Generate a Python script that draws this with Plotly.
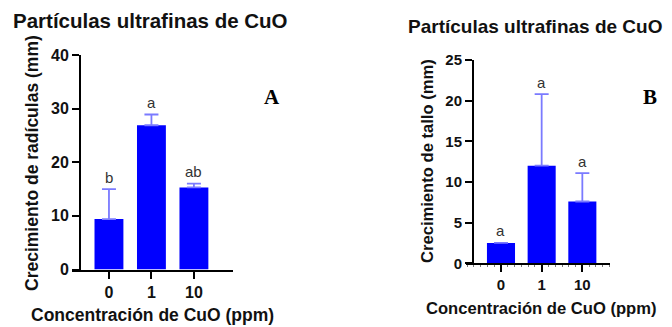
import plotly.graph_objects as go

W, H = 672, 327

categories = ["0", "1", "10"]
# Panel A: root growth
rad_mean = [9.4, 26.9, 15.3]
rad_err = [5.6, 2.0, 0.7]
rad_letters = ["b", "a", "ab"]
# Panel B: stem growth
tallo_mean = [2.5, 12.0, 7.6]
tallo_err = [0.0, 8.8, 3.5]
tallo_letters = ["a", "a", "a"]

title_text = "Partículas ultrafinas de CuO"
xtitle = "Concentración de CuO (ppm)"
ytitle_a = "Crecimiento de radículas (mm)"
ytitle_b = "Crecimiento de tallo (mm)"

BAR = "#0000ff"
ERR = "#7a7aff"
FONT = "Liberation Sans, Arial, sans-serif"
SERIF = "Liberation Serif, Times New Roman, serif"

def px(x):
    return x / W

def py(y):
    return 1 - y / H

xpos = list(range(len(categories)))

fig = go.Figure()
fig.add_trace(go.Bar(
    x=xpos, y=rad_mean, width=0.68, marker=dict(color=BAR, line=dict(width=0)),
    error_y=dict(type="data", array=rad_err, arrayminus=[0] * 3, symmetric=False,
                 color=ERR, thickness=1.8, width=7),
    xaxis="x", yaxis="y", showlegend=False, hoverinfo="skip"))
fig.add_trace(go.Bar(
    x=xpos, y=tallo_mean, width=0.69, marker=dict(color=BAR, line=dict(width=0)),
    error_y=dict(type="data", array=tallo_err, arrayminus=[0] * 3, symmetric=False,
                 color=ERR, thickness=1.8, width=7),
    xaxis="x2", yaxis="y2", showlegend=False, hoverinfo="skip"))

def axis_common(size):
    return dict(showgrid=False, zeroline=False, showline=True, linecolor="#000000",
                linewidth=2, ticks="outside", tickcolor="#000000", tickwidth=2,
                ticklen=7, automargin=False, fixedrange=True,
                tickfont=dict(family=FONT, size=size, color="#111111", weight="bold"))

fig.update_layout(
    template="none",
    width=W, height=H, margin=dict(l=0, r=0, t=0, b=0, pad=0),
    paper_bgcolor="white", plot_bgcolor="white",
    xaxis=dict(domain=[px(72), px(233)], range=[-0.87, 2.92], anchor="y",
               tickmode="array", tickvals=xpos, ticktext=categories, **axis_common(16)),
    yaxis=dict(domain=[py(269.5), py(55)], range=[0, 40], dtick=10, anchor="free",
               position=px(80), **axis_common(16)),
    xaxis2=dict(domain=[px(466), px(610)], range=[-0.86, 2.68], anchor="y2",
                tickmode="array", tickvals=xpos, ticktext=categories,
                minor=dict(ticks="outside", ticklen=2, tickcolor="#777777", tickwidth=1,
                           tickmode="linear", tick0=0, dtick=1 / 6),
                **axis_common(15)),
    yaxis2=dict(domain=[py(263.3), py(60)], range=[0, 25], dtick=5, anchor="free",
                position=px(473), **axis_common(15)),
)

def note(text, x, y, size, family=FONT, color="#111111", angle=0):
    return dict(text=text, x=px(x), y=py(y), xref="paper", yref="paper",
                xanchor="center", yanchor="middle", showarrow=False, textangle=angle,
                font=dict(family=family, size=size, color=color))

ann = [
    note(f"<b>{title_text}</b>", 150, 20, 20.5),
    note(f"<b>{title_text}</b>", 535, 27, 19),
    note("<b>A</b>", 272, 97, 21, family=SERIF, color="#000000"),
    note("<b>B</b>", 650, 97, 21, family=SERIF, color="#000000"),
    note(f"<b>{xtitle}</b>", 152, 315, 17.5),
    note(f"<b>{xtitle}</b>", 541, 308, 16.6),
    note(f"<b>{ytitle_a}</b>", 32, 163, 17.5, angle=-90),
    note(f"<b>{ytitle_b}</b>", 427, 161, 16.6, angle=-90),
]
# significance letters
for i, (m, e, l) in enumerate(zip(rad_mean, rad_err, rad_letters)):
    ann.append(dict(text=l, x=i, y=m + e, xref="x", yref="y", yshift=12, showarrow=False,
                    xanchor="center", yanchor="middle",
                    font=dict(family=FONT, size=15, color="#333333")))
for i, (m, e, l) in enumerate(zip(tallo_mean, tallo_err, tallo_letters)):
    ann.append(dict(text=l, x=i, y=m + e, xref="x2", yref="y2", yshift=12, showarrow=False,
                    xanchor="center", yanchor="middle",
                    font=dict(family=FONT, size=15, color="#333333")))
fig.update_layout(annotations=ann)

fig.write_html("out.html", config={"displayModeBar": False},
               post_script="document.body.style.margin='0';")
